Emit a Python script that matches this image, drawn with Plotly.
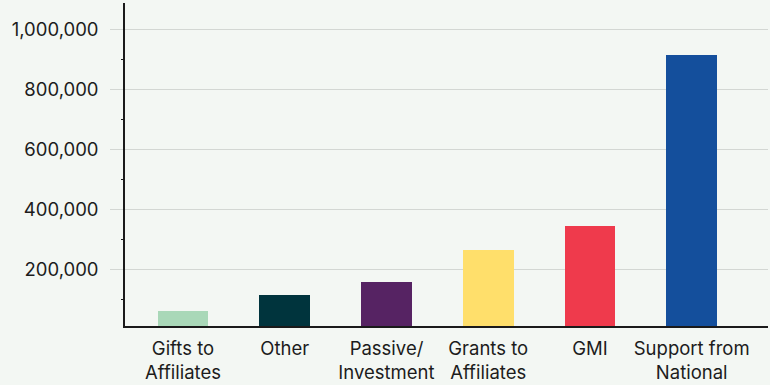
import plotly.graph_objects as go

categories = ["Gifts to<br>Affiliates", "Other", "Passive/<br>Investment",
              "Grants to<br>Affiliates", "GMI", "Support from<br>National"]
values = [60000, 113000, 157000, 264000, 344000, 915000]
colors = ["#a9d8b8", "#00343d", "#562363", "#ffdf6b", "#ef3a4c", "#144f9c"]
y_ticks = [200000, 400000, 600000, 800000, 1000000]
y_tick_labels = ["200,000", "400,000", "600,000", "800,000", "1,000,000"]

bg = "#f3f7f3"
fig = go.Figure()
fig.add_trace(go.Bar(x=list(range(len(categories))), y=values,
                     marker=dict(color=colors, line=dict(width=0)),
                     width=0.5, base=0))

fig.update_layout(
    width=770, height=385,
    margin=dict(l=125, r=2, t=3, b=59),
    paper_bgcolor=bg, plot_bgcolor=bg,
    font=dict(family="Inter, Liberation Sans, sans-serif", size=18.5, color="#1c1c1c"),
    showlegend=False,
    bargap=0,
)
fig.update_xaxes(
    tickmode="array", tickvals=list(range(len(categories))), ticktext=categories,
    range=[-0.57, 5.75], showgrid=False, showline=True, linecolor="#1a1a1a",
    linewidth=1.5, ticks="", zeroline=False, ticklabelstandoff=5,
)
fig.update_yaxes(
    range=[10000, 1088000], tickmode="array", tickvals=y_ticks, ticktext=y_tick_labels,
    showgrid=True, gridcolor="#d3d7d3", gridwidth=1,
    ticks="outside", ticklen=13, tickcolor="#d3d7d3", tickwidth=1,
    showline=True, linecolor="#1a1a1a", linewidth=1.5, zeroline=False,
    minor=dict(dtick=100000, tick0=0, ticks="outside", ticklen=2, tickcolor="#1a1a1a", showgrid=False),
    ticklabelstandoff=8,
)
fig.write_html("out.html")
